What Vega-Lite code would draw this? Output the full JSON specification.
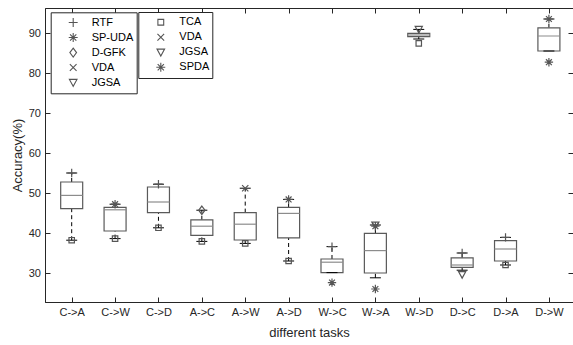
{
  "$schema": "https://vega.github.io/schema/vega-lite/v6.json",
  "autosize": {"type": "none"},
  "width": 528,
  "height": 294,
  "padding": {"left": 45, "top": 8, "right": 0, "bottom": 43},
  "background": "white",
  "config": {
    "font": "Liberation Sans",
    "view": {"stroke": "#262626", "strokeWidth": 1},
    "axis": {
      "grid": false,
      "domainColor": "#262626",
      "tickColor": "#262626",
      "labelColor": "#262626",
      "titleColor": "#262626",
      "labelFontSize": 11,
      "titleFontSize": 13,
      "titleFontWeight": "normal",
      "labelFont": "Liberation Sans",
      "titleFont": "Liberation Sans"
    }
  },
  "datasets": {
    "boxes": [
      {"i": 1, "lo": 38.2, "q1": 46.1, "med": 49.4, "q3": 52.75, "hi": 55.0},
      {"i": 2, "lo": 38.6, "q1": 40.5, "med": 45.8, "q3": 46.4, "hi": 47.2},
      {"i": 3, "lo": 41.3, "q1": 45.1, "med": 47.75, "q3": 51.5, "hi": 52.2},
      {"i": 4, "lo": 37.9, "q1": 39.4, "med": 41.7, "q3": 43.3, "hi": 45.7},
      {"i": 5, "lo": 37.4, "q1": 38.25, "med": 42.2, "q3": 45.1, "hi": 51.2},
      {"i": 6, "lo": 33.0, "q1": 38.8, "med": 44.9, "q3": 46.4, "hi": 48.4},
      {"i": 7, "lo": 30.1, "q1": 30.1, "med": 32.7, "q3": 33.5, "hi": 36.6},
      {"i": 8, "lo": 28.8, "q1": 30.0, "med": 35.6, "q3": 39.9, "hi": 42.0},
      {"i": 9, "lo": 88.5, "q1": 89.1, "med": 89.5, "q3": 89.9, "hi": 90.9},
      {"i": 10, "lo": 30.7, "q1": 31.4, "med": 32.0, "q3": 33.8, "hi": 35.0},
      {"i": 11, "lo": 32.0, "q1": 33.0, "med": 36.0, "q3": 38.1, "hi": 38.9},
      {"i": 12, "lo": 85.5, "q1": 85.5, "med": 89.25, "q3": 91.3, "hi": 93.5}
    ],
    "pts1": [
      {"i": 1, "method": "RTF", "acc": 55.0},
      {"i": 2, "method": "SP-UDA", "acc": 47.2},
      {"i": 3, "method": "RTF", "acc": 52.2},
      {"i": 4, "method": "D-GFK", "acc": 45.7},
      {"i": 5, "method": "VDA", "acc": 51.2},
      {"i": 6, "method": "SP-UDA", "acc": 48.4},
      {"i": 7, "method": "RTF", "acc": 36.6},
      {"i": 8, "method": "JGSA", "acc": 42.0},
      {"i": 8, "method": "SP-UDA", "acc": 41.7},
      {"i": 9, "method": "JGSA", "acc": 90.9},
      {"i": 10, "method": "RTF", "acc": 35.0},
      {"i": 10, "method": "JGSA", "acc": 29.6},
      {"i": 11, "method": "RTF", "acc": 38.9},
      {"i": 12, "method": "SP-UDA", "acc": 93.5}
    ],
    "pts2": [
      {"i": 1, "method": "TCA", "acc": 38.2},
      {"i": 2, "method": "TCA", "acc": 38.6},
      {"i": 3, "method": "TCA", "acc": 41.3},
      {"i": 4, "method": "TCA", "acc": 37.9},
      {"i": 5, "method": "TCA", "acc": 37.4},
      {"i": 6, "method": "TCA", "acc": 33.0},
      {"i": 7, "method": "SPDA", "acc": 27.6},
      {"i": 8, "method": "SPDA", "acc": 26.0},
      {"i": 9, "method": "TCA", "acc": 87.4},
      {"i": 11, "method": "TCA", "acc": 32.0},
      {"i": 12, "method": "SPDA", "acc": 82.7}
    ]
  },
  "layer": [
    {
      "data": {"name": "boxes"},
      "mark": {"type": "rule", "color": "#000000", "strokeWidth": 1, "strokeDash": [4, 3]},
      "encoding": {
        "x": {"field": "i", "type": "quantitative", "scale": {"domain": [0.5, 12.44], "nice": false, "zero": false},
          "axis": {"orient": "bottom", "values": [1,2,3,4,5,6,7,8,9,10,11,12], "tickSize": -5, "labelPadding": 9,
            "labelExpr": "['C->A','C->W','C->D','A->C','A->W','A->D','W->C','W->A','W->D','D->C','D->A','D->W'][datum.value-1]",
            "title": "different tasks", "titlePadding": 9}},
        "y": {"field": "lo", "type": "quantitative", "scale": {"domain": [22.75, 96.25], "nice": false, "zero": false},
          "axis": {"orient": "left", "values": [30,40,50,60,70,80,90], "tickSize": -5, "labelPadding": 9.5,
            "title": "Accuracy(%)", "titlePadding": 4}},
        "y2": {"field": "q1"}
      }
    },
    {
      "data": {"name": "boxes"},
      "mark": {"type": "rule", "color": "#000000", "strokeWidth": 1, "strokeDash": [4, 3]},
      "encoding": {
        "x": {"field": "i", "type": "quantitative", "scale": {"domain": [0.5, 12.44], "nice": false, "zero": false},
          "axis": {"orient": "top", "values": [1,2,3,4,5,6,7,8,9,10,11,12], "tickSize": -5, "labels": false, "domain": false, "title": null}},
        "y": {"field": "q3", "type": "quantitative", "scale": {"domain": [22.75, 96.25], "nice": false, "zero": false},
          "axis": {"orient": "right", "values": [30,40,50,60,70,80,90], "tickSize": -5, "labels": false, "domain": false, "title": null}},
        "y2": {"field": "hi"}
      }
    },
    {
      "data": {"name": "boxes"},
      "mark": {"type": "bar", "size": 22, "fill": "white", "stroke": "#5a5a5a", "strokeWidth": 1.2},
      "encoding": {
        "x": {"field": "i", "type": "quantitative", "scale": {"domain": [0.5, 12.44], "nice": false, "zero": false}, "axis": null},
        "y": {"field": "q1", "type": "quantitative", "scale": {"domain": [22.75, 96.25], "nice": false, "zero": false}, "axis": null},
        "y2": {"field": "q3"}
      }
    },
    {
      "data": {"name": "boxes"},
      "mark": {"type": "tick", "orient": "horizontal", "size": 22, "thickness": 1.2, "color": "#8c8c8c", "opacity": 1},
      "encoding": {
        "x": {"field": "i", "type": "quantitative", "scale": {"domain": [0.5, 12.44], "nice": false, "zero": false}, "axis": null},
        "y": {"field": "med", "type": "quantitative", "scale": {"domain": [22.75, 96.25], "nice": false, "zero": false}, "axis": null}
      }
    },
    {
      "data": {"name": "boxes"},
      "mark": {"type": "tick", "orient": "horizontal", "size": 11, "thickness": 1, "color": "#000000", "opacity": 1},
      "encoding": {
        "x": {"field": "i", "type": "quantitative", "scale": {"domain": [0.5, 12.44], "nice": false, "zero": false}, "axis": null},
        "y": {"field": "lo", "type": "quantitative", "scale": {"domain": [22.75, 96.25], "nice": false, "zero": false}, "axis": null}
      }
    },
    {
      "data": {"name": "boxes"},
      "mark": {"type": "tick", "orient": "horizontal", "size": 11, "thickness": 1, "color": "#000000", "opacity": 1},
      "encoding": {
        "x": {"field": "i", "type": "quantitative", "scale": {"domain": [0.5, 12.44], "nice": false, "zero": false}, "axis": null},
        "y": {"field": "hi", "type": "quantitative", "scale": {"domain": [22.75, 96.25], "nice": false, "zero": false}, "axis": null}
      }
    },
    {
      "data": {"name": "pts1"},
      "mark": {"type": "point", "filled": false, "color": "#555555", "strokeWidth": 1.2, "size": 70, "opacity": 1},
      "encoding": {
        "x": {"field": "i", "type": "quantitative", "scale": {"domain": [0.5, 12.44], "nice": false, "zero": false}, "axis": null},
        "y": {"field": "acc", "type": "quantitative", "scale": {"domain": [22.75, 96.25], "nice": false, "zero": false}, "axis": null},
        "shape": {"field": "method", "type": "nominal",
          "scale": {"domain": ["RTF", "SP-UDA", "D-GFK", "VDA", "JGSA"],
            "range": ["M-1,0L1,0M0,-1L0,1", "M-1,0L1,0M0,-1L0,1M-0.7,-0.7L0.7,0.7M-0.7,0.7L0.7,-0.7", "M0,-1L0.75,0L0,1L-0.75,0Z", "M-0.75,-0.75L0.75,0.75M-0.75,0.75L0.75,-0.75", "M-0.85,-0.7L0.85,-0.7L0,0.85Z"]},
          "legend": {"orient": "none", "legendX": 5.7, "legendY": 4.3, "title": null, "padding": 3,
            "symbolOffset": 14, "labelOffset": 13, "clipHeight": 14.5, "rowPadding": 0,
            "strokeColor": "#262626", "fillColor": "white", "labelFontSize": 11, "labelColor": "#000000",
            "labelFont": "Liberation Sans", "symbolSize": 80, "symbolStrokeWidth": 1.1, "symbolStrokeColor": "#555555"}}
      }
    },
    {
      "data": {"name": "pts2"},
      "mark": {"type": "point", "filled": false, "color": "#555555", "strokeWidth": 1.2, "size": 70, "opacity": 1},
      "encoding": {
        "x": {"field": "i", "type": "quantitative", "scale": {"domain": [0.5, 12.44], "nice": false, "zero": false}, "axis": null},
        "y": {"field": "acc", "type": "quantitative", "scale": {"domain": [22.75, 96.25], "nice": false, "zero": false}, "axis": null},
        "shape": {"field": "method", "type": "nominal",
          "scale": {"domain": ["TCA", "VDA", "JGSA", "SPDA"],
            "range": ["M-0.65,-0.65L0.65,-0.65L0.65,0.65L-0.65,0.65Z", "M-0.75,-0.75L0.75,0.75M-0.75,0.75L0.75,-0.75", "M-0.85,-0.7L0.85,-0.7L0,0.85Z", "M-1,0L1,0M0,-1L0,1M-0.7,-0.7L0.7,0.7M-0.7,0.7L0.7,-0.7"]},
          "legend": {"orient": "none", "legendX": 93.3, "legendY": 4, "title": null, "padding": 3,
            "symbolOffset": 14, "labelOffset": 13, "clipHeight": 14.5, "rowPadding": 0,
            "strokeColor": "#262626", "fillColor": "white", "labelFontSize": 11, "labelColor": "#000000",
            "labelFont": "Liberation Sans", "symbolSize": 80, "symbolStrokeWidth": 1.1, "symbolStrokeColor": "#555555"}}
      }
    }
  ],
  "resolve": {
    "scale": {"shape": "independent"},
    "legend": {"shape": "independent"},
    "axis": {"x": "independent", "y": "independent"}
  }
}
